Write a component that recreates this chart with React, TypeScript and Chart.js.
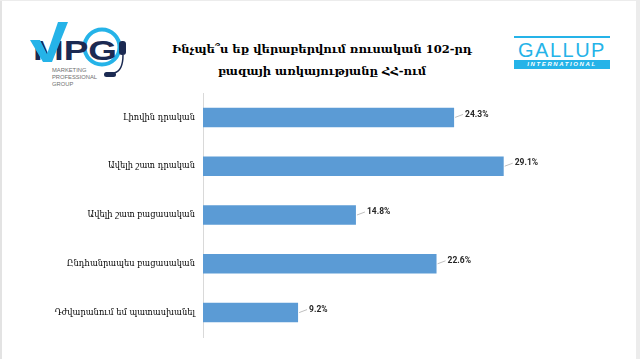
import React, { useEffect, useRef } from "react";
import { Chart, registerables } from "chart.js";

Chart.register(...registerables);

const categories = [
  "Լիովին դրական",
  "Ավելի շատ դրական",
  "Ավելի շատ բացասական",
  "Ընդհանրապես բացասական",
  "Դժվարանում եմ պատասխանել",
];
const values = [24.3, 29.1, 14.8, 22.6, 9.2];
const titleLines = ["Ինչպե՞ս եք վերաբերվում ռուսական 102-րդ", "բազայի առկայությանը ՀՀ-ում"];

const BAR_COLOR = "#5b9bd5";
const CYAN = "#25b3e8";
const NAVY = "#1b2a52";

const leaderLabels = {
  id: "leaderLabels",
  afterDatasetsDraw(chart: any) {
    const ctx = chart.ctx;
    const meta = chart.getDatasetMeta(0);
    ctx.save();
    ctx.font = "bold 8.5px Roboto";
    ctx.textBaseline = "middle";
    ctx.textAlign = "left";
    meta.data.forEach((bar: any, i: number) => {
      const x = bar.x;
      const y = bar.y;
      const gap = 11;
      ctx.strokeStyle = "#bfbfbf";
      ctx.lineWidth = 1;
      ctx.beginPath();
      ctx.moveTo(x + 1, y);
      ctx.lineTo(x + gap - 2, y - 3);
      ctx.stroke();
      ctx.fillStyle = "#262626";
      ctx.fillText(values[i].toFixed(1) + "%", x + gap, y - 3);
    });
    ctx.restore();
  },
};

function ChartBox() {
  const ref = useRef<HTMLCanvasElement | null>(null);
  useEffect(() => {
    if (!ref.current) return;
    const chart = new Chart(ref.current, {
      type: "bar",
      data: {
        labels: categories,
        datasets: [
          {
            data: values,
            backgroundColor: BAR_COLOR,
            borderWidth: 0,
            barPercentage: 0.4,
            categoryPercentage: 1,
          },
        ],
      },
      options: {
        indexAxis: "y",
        animation: false,
        responsive: false,
        maintainAspectRatio: false,
        events: [],
        layout: { padding: { top: 3, bottom: 3, left: 0, right: 127 } },
        plugins: {
          legend: { display: false },
          tooltip: { enabled: false },
          title: { display: false },
        },
        scales: {
          x: { display: false, min: 0, max: 30 },
          y: {
            grid: { display: false, drawTicks: false },
            border: { display: true, color: "#d9d9d9", width: 1 },
            ticks: {
              color: "#000",
              padding: 8,
              font: { family: "DejaVu Serif", size: 8.3 },
            },
            afterFit: (scale: any) => {
              scale.width = 203;
              scale.paddingTop = 0;
              scale.paddingBottom = 0;
            },
          },
        },
      },
      plugins: [leaderLabels],
    } as any);
    return () => chart.destroy();
  }, []);
  return (
    <canvas
      ref={ref}
      width={640}
      height={250}
      style={{ position: "absolute", left: 0, top: 90, width: 640, height: 250 }}
    />
  );
}

function MpgLogo() {
  return (
    <svg width="140" height="90" style={{ position: "absolute", left: 0, top: 0 }}>
      <circle cx="102" cy="47" r="17.5" fill="none" stroke={CYAN} strokeWidth="4" />
      <text
        x="33"
        y="60"
        fontFamily="Liberation Sans"
        fontWeight="700"
        fontSize="28"
        fill={NAVY}
        textLength="84"
        lengthAdjust="spacingAndGlyphs"
      >
        MPG
      </text>
      <polygon points="30,40 40,40 47,54 58,22 68,22 52,62 43,62" fill={CYAN} />
      <rect x="119" y="41" width="7" height="14" rx="3" fill={NAVY} />
      <path d="M123 55 Q123 71 114 73" fill="none" stroke={NAVY} strokeWidth="1.5" />
      <rect x="104" y="72" width="12" height="5" rx="2.5" fill={NAVY} />
      <text fontFamily="Liberation Sans" fontSize="5.8" fill="#707070">
        <tspan x="52" y="71.5">MARKETING</tspan>
        <tspan x="52" y="78.5">PROFESSIONAL</tspan>
        <tspan x="52" y="85.5">GROUP</tspan>
      </text>
    </svg>
  );
}

function GallupLogo() {
  return (
    <div style={{ position: "absolute", left: 514, top: 36, width: 96, height: 34 }}>
      <div style={{ position: "absolute", left: 0, top: 0, width: 96, height: 2, background: CYAN }} />
      <div
        style={{
          position: "absolute",
          left: 0,
          top: 4,
          width: 96,
          textAlign: "center",
          fontFamily: "Liberation Sans",
          fontSize: 20,
          lineHeight: "20px",
          color: CYAN,
          letterSpacing: 1.5,
          fontWeight: 400,
        }}
      >
        GALLUP
      </div>
      <div
        style={{
          position: "absolute",
          left: 0,
          top: 24,
          width: 96,
          height: 9,
          background: CYAN,
          color: "#fff",
          fontFamily: "Liberation Sans",
          fontWeight: 700,
          fontStyle: "italic",
          fontSize: 6,
          lineHeight: "9px",
          letterSpacing: 1.6,
          textAlign: "center",
        }}
      >
        INTERNATIONAL
      </div>
    </div>
  );
}

export default function App() {
  return (
    <div
      style={{
        position: "fixed",
        left: 0,
        top: 0,
        width: 640,
        height: 359,
        background: "#fff",
        overflow: "hidden",
      }}
    >
      <div style={{ position: "absolute", left: 0, top: 0, width: 2, height: 359, background: "#e3e3e3" }} />
      <div style={{ position: "absolute", left: 0, top: 0, width: 640, height: 1, background: "#ececec" }} />
      <div style={{ position: "absolute", left: 636, top: 0, width: 4, height: 359, background: "#ececec" }} />
      <MpgLogo />
      <GallupLogo />
      <div
        style={{
          position: "absolute",
          left: 122,
          top: 38,
          width: 400,
          textAlign: "center",
          fontFamily: "DejaVu Serif",
          fontWeight: 700,
          fontSize: 11.5,
          lineHeight: "22px",
          color: "#000",
        }}
      >
        {titleLines.map((t, i) => (
          <div key={i}>{t}</div>
        ))}
      </div>
      <ChartBox />
    </div>
  );
}
